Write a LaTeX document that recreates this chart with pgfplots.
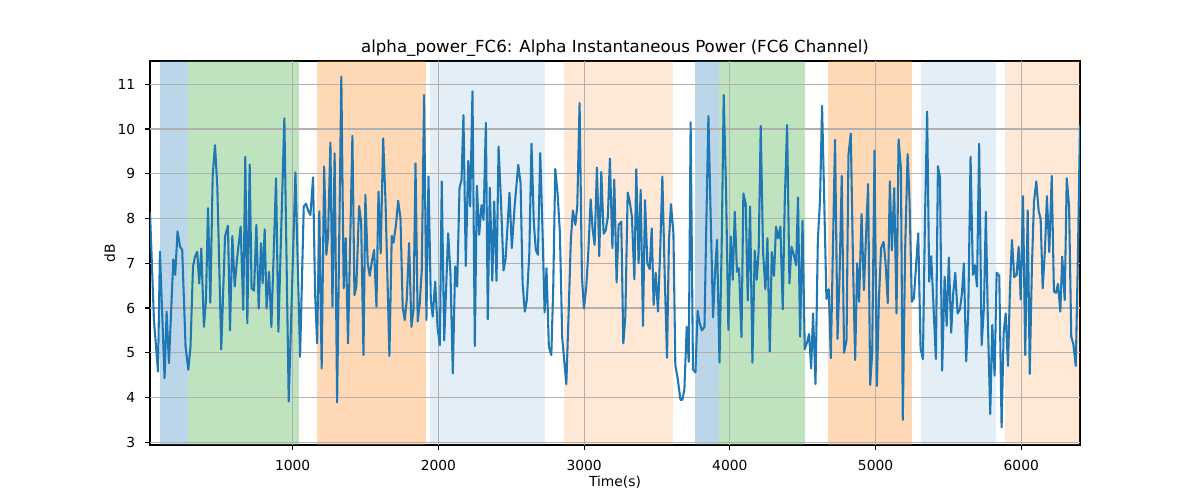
\documentclass[border=0pt]{standalone}
\usepackage{fontspec}
\setmainfont{DejaVu Sans}
\usepackage{pgfplots}
\usepackage{pgfplotstable}
\pgfplotsset{compat=1.18}
\definecolor{c0}{HTML}{1F77B4}
\definecolor{c1}{HTML}{FF7F0E}
\definecolor{c2}{HTML}{2CA02C}
\definecolor{gridc}{HTML}{B0B0B0}
\pgfplotstableread{
x y
21 8.15
48 5.73
76 4.58
89 7.26
121 4.43
135 5.92
151 4.77
181 7.09
194 6.74
210 7.71
227 7.37
242 7.30
265 5.14
284 4.62
299 5.14
316 6.93
330 7.15
345 7.26
359 6.55
373 7.33
391 5.58
405 6.18
419 8.23
435 6.12
451 8.94
467 9.64
483 8.71
510 5.08
536 7.60
556 7.84
570 5.50
586 7.61
602 6.48
620 7.15
643 7.82
661 5.96
675 9.38
689 5.66
705 9.21
718 6.44
735 6.39
751 7.86
767 5.99
783 7.45
794 6.55
808 7.76
821 5.99
838 6.81
854 5.58
886 8.90
902 5.47
943 10.24
973 3.91
1019 9.03
1051 4.91
1076 8.27
1092 8.33
1108 8.16
1122 8.08
1140 8.92
1154 6.33
1168 5.21
1183 8.16
1199 4.65
1216 9.16
1231 7.19
1243 7.60
1259 9.70
1273 6.03
1288 9.46
1305 3.89
1334 11.17
1350 6.44
1364 7.56
1380 5.21
1410 9.85
1424 6.29
1437 6.48
1456 8.28
1470 7.93
1486 4.95
1499 8.53
1515 7.00
1529 6.72
1545 7.07
1559 7.30
1575 6.03
1589 8.60
1604 7.22
1621 9.79
1637 8.41
1664 4.93
1680 7.61
1692 7.46
1710 7.89
1724 8.40
1740 8.00
1755 6.03
1769 5.73
1783 6.18
1799 7.45
1815 5.58
1829 5.96
1843 9.23
1858 5.70
1872 6.10
1886 6.85
1902 10.76
1918 5.73
1932 8.94
1948 6.18
1961 5.81
1978 6.59
1994 5.58
2010 5.17
2023 8.83
2040 5.28
2067 7.67
2083 6.77
2099 4.54
2115 6.93
2129 6.48
2145 8.68
2159 8.87
2172 10.31
2188 6.94
2205 9.29
2218 8.27
2234 10.84
2250 5.15
2264 8.73
2280 7.64
2296 8.30
2310 7.97
2326 10.14
2339 5.75
2353 8.69
2370 6.61
2383 8.38
2399 6.61
2413 9.61
2431 8.27
2447 6.84
2461 7.09
2488 8.58
2504 7.34
2523 8.27
2548 9.20
2564 8.79
2578 6.55
2593 5.92
2607 6.18
2624 7.22
2639 9.67
2655 7.89
2669 7.30
2683 7.19
2699 9.46
2715 7.67
2729 5.90
2742 6.89
2758 5.14
2775 4.95
2788 6.44
2802 9.11
2818 8.56
2834 7.67
2850 5.32
2878 4.30
2893 5.81
2909 7.52
2923 8.18
2940 7.86
2953 8.27
2969 10.58
2985 6.70
2999 5.99
3015 6.48
3029 7.26
3045 8.43
3058 7.78
3072 7.41
3088 9.14
3104 7.16
3118 9.04
3134 7.66
3148 7.73
3163 8.04
3177 9.34
3194 7.34
3207 8.87
3223 6.57
3237 7.86
3255 7.93
3269 5.21
3283 5.81
3299 8.58
3312 8.41
3328 8.04
3345 6.64
3358 9.10
3374 7.00
3388 8.64
3404 5.60
3418 8.41
3434 7.00
3450 6.87
3464 7.78
3477 6.07
3491 6.79
3507 5.92
3523 7.37
3537 8.94
3553 6.74
3569 4.89
3582 7.49
3596 8.32
3613 7.67
3626 4.72
3642 4.43
3661 3.95
3674 3.95
3688 4.17
3704 5.58
3718 4.80
3731 10.15
3747 4.63
3764 4.56
3779 5.94
3793 5.66
3809 5.50
3826 5.58
3837 7.60
3853 10.29
3869 7.97
3885 5.79
3898 6.77
3912 7.52
3929 4.78
3944 7.37
3958 10.76
3974 8.64
3990 5.51
4006 7.60
4020 6.63
4034 8.15
4049 6.81
4063 6.89
4080 5.35
4093 8.56
4109 8.33
4123 6.17
4139 8.27
4155 4.78
4171 7.28
4185 6.63
4198 7.30
4212 10.07
4228 7.26
4244 6.42
4258 7.56
4274 5.03
4288 7.25
4303 6.72
4317 7.82
4331 7.56
4347 7.82
4363 5.97
4377 8.38
4393 10.09
4409 6.55
4423 7.37
4439 7.19
4455 6.96
4468 8.47
4482 5.36
4499 7.95
4514 5.08
4530 5.23
4544 5.42
4558 4.65
4571 5.88
4588 4.30
4604 7.52
4619 8.41
4633 10.52
4663 6.20
4679 6.42
4693 4.88
4722 9.76
4739 5.31
4753 6.70
4768 8.95
4784 5.00
4801 5.29
4814 9.42
4830 9.90
4846 6.89
4860 4.84
4874 7.00
4887 6.14
4904 8.10
4920 6.40
4933 7.48
4949 8.77
4963 4.28
4977 5.00
4993 9.52
5009 4.26
5023 6.18
5038 7.34
5055 7.48
5069 7.00
5084 6.11
5098 8.83
5112 7.29
5128 8.68
5144 5.88
5158 9.77
5174 9.12
5187 3.50
5203 7.30
5220 9.44
5233 8.41
5249 6.14
5263 6.22
5293 7.67
5309 5.10
5325 4.86
5339 7.97
5354 10.39
5368 6.59
5382 7.16
5414 4.86
5428 9.17
5442 8.92
5457 4.60
5474 6.70
5488 5.60
5503 7.13
5519 5.45
5533 6.33
5547 6.79
5563 5.88
5579 5.97
5593 6.33
5606 7.00
5622 4.81
5636 5.88
5652 9.38
5668 6.74
5682 6.96
5696 6.48
5711 9.67
5728 5.17
5744 6.03
5757 8.15
5771 5.66
5787 3.63
5801 5.62
5817 4.49
5831 6.79
5849 6.72
5865 3.33
5879 5.44
5893 5.88
5909 4.71
5922 6.40
5936 7.52
5952 6.69
5968 6.74
5982 7.37
5996 6.19
6012 8.50
6027 4.95
6044 8.18
6058 4.53
6073 6.93
6087 8.36
6103 8.83
6119 8.18
6133 7.98
6147 6.44
6163 7.34
6176 8.50
6192 7.25
6209 8.95
6224 6.37
6238 6.34
6252 6.54
6268 5.92
6281 7.15
6298 6.18
6312 8.90
6328 8.27
6343 5.36
6357 5.20
6374 4.71
6389 7.22
6403 10.09
}\datatable

\begin{document}
\begin{tikzpicture}
\useasboundingbox (-1.5in,-0.55in) rectangle (10.5in,4.45in);
\begin{axis}[
  scale only axis, width=9.3in, height=3.84in,
  xmin=21, xmax=6403, ymin=2.94, ymax=11.52,
  xtick={1000,2000,3000,4000,5000,6000},
  ytick={3,4,5,6,7,8,9,10,11},
  tick pos=left, tick align=outside,
  major tick length=3.5pt,
  tick style={black, line width=0.8pt},
  axis line style={black, line width=0.8pt},
  /pgf/number format/assume math mode=true,
  /pgf/number format/1000 sep={},
  every tick label/.append style={font=\fontsize{10}{12}\selectfont, inner sep=0pt},
  every x tick label/.append style={anchor=north, yshift=-7pt},
  every y tick label/.append style={anchor=east, xshift=-7pt},
  every axis title/.style={at={(axis description cs:0.5,1)}, yshift=6pt, anchor=base, font=\fontsize{12}{14}\selectfont, inner sep=0pt},
  every axis x label/.style={at={(axis description cs:0.5,0)}, yshift=-0.41in, anchor=base, font=\fontsize{10}{12}\selectfont, inner sep=0pt},
  every axis y label/.style={at={(axis description cs:0,0.5)}, xshift=-0.35in, rotate=90, anchor=base, font=\fontsize{10}{12}\selectfont, inner sep=0pt},
  title={alpha\_power\_FC6: Alpha Instantaneous Power (FC6 Channel)},
  xlabel={Time(s)}, ylabel={dB},
]
% shaded spans
\addplot[draw=none, fill=c0, fill opacity=0.3] coordinates {(89,11.52) (282,11.52)} \closedcycle;
\addplot[draw=none, fill=c2, fill opacity=0.3] coordinates {(282,11.52) (1041,11.52)} \closedcycle;
\addplot[draw=none, fill=c1, fill opacity=0.3] coordinates {(1168,11.52) (1916,11.52)} \closedcycle;
\addplot[draw=none, fill=c0, fill opacity=0.12] coordinates {(1944,11.52) (2733,11.52)} \closedcycle;
\addplot[draw=none, fill=c1, fill opacity=0.17] coordinates {(2859,11.52) (3613,11.52)} \closedcycle;
\addplot[draw=none, fill=c0, fill opacity=0.3] coordinates {(3761,11.52) (3926,11.52)} \closedcycle;
\addplot[draw=none, fill=c2, fill opacity=0.3] coordinates {(3926,11.52) (4514,11.52)} \closedcycle;
\addplot[draw=none, fill=c1, fill opacity=0.3] coordinates {(4672,11.52) (5249,11.52)} \closedcycle;
\addplot[draw=none, fill=c0, fill opacity=0.12] coordinates {(5311,11.52) (5824,11.52)} \closedcycle;
\addplot[draw=none, fill=c1, fill opacity=0.17] coordinates {(5888,11.52) (6403,11.52)} \closedcycle;
% grid lines drawn above the spans
\pgfplotsinvokeforeach{3,4,5,6,7,8,9,10,11}{
  \addplot[gridc, line width=0.8pt, forget plot] coordinates {(21,#1) (6403,#1)};
}
\pgfplotsinvokeforeach{1000,2000,3000,4000,5000,6000}{
  \addplot[gridc, line width=0.8pt, forget plot] coordinates {(#1,2.94) (#1,11.52)};
}
% signal
\addplot[c0, line width=1.5pt, line join=round, mark=none] table[x=x, y=y] {\datatable};
\end{axis}
\end{tikzpicture}
\end{document}
